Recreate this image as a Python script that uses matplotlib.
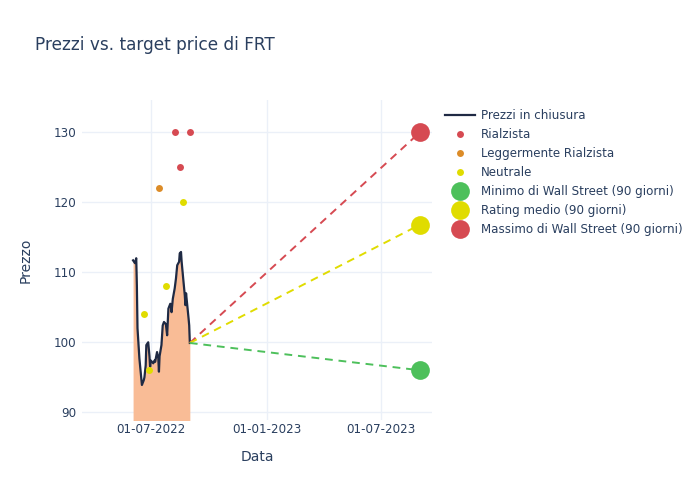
import matplotlib
matplotlib.use("Agg")
import matplotlib.pyplot as plt
import matplotlib.dates as mdates
import pandas as pd

# ---- data ----
price_dates = ["2022-06-03", "2022-06-06", "2022-06-08", "2022-06-09", "2022-06-10",
               "2022-06-13", "2022-06-15", "2022-06-17", "2022-06-20", "2022-06-21",
               "2022-06-23", "2022-06-24", "2022-06-27", "2022-06-29", "2022-06-30",
               "2022-07-01", "2022-07-05", "2022-07-07", "2022-07-08", "2022-07-11",
               "2022-07-13", "2022-07-14", "2022-07-15", "2022-07-18", "2022-07-20",
               "2022-07-22", "2022-07-25", "2022-07-27", "2022-07-29", "2022-08-01",
               "2022-08-02", "2022-08-03", "2022-08-05", "2022-08-08", "2022-08-10",
               "2022-08-12", "2022-08-15", "2022-08-16", "2022-08-18", "2022-08-19",
               "2022-08-22", "2022-08-24", "2022-08-25", "2022-08-26", "2022-08-29",
               "2022-08-30", "2022-08-31", "2022-09-01"]
price_values = [111.7, 111.3, 112.0, 108.1, 102.0,
                97.7, 95.8, 93.9, 94.6, 95.0,
                96.7, 99.6, 100.0, 98.0, 96.5,
                97.4, 97.0, 97.4, 97.2, 98.6,
                97.7, 95.8, 98.0, 99.6, 102.4,
                102.9, 102.6, 101.0, 104.8, 105.5,
                105.3, 104.3, 106.2, 107.7, 109.1,
                111.0, 111.5, 112.7, 112.9, 111.5,
                108.6, 106.7, 105.3, 107.0, 104.3,
                103.4, 102.4, 99.9]

bull_dates = ["2022-08-08", "2022-09-01", "2022-08-16"]
bull_values = [130, 130, 125]
mild_bull_dates = ["2022-07-14"]
mild_bull_values = [122]
neutral_dates = ["2022-06-21", "2022-06-29", "2022-07-25", "2022-08-21"]
neutral_values = [104, 96, 108, 120]

target_start = "2022-09-01"
target_end = "2023-09-01"
target_min = 96.0
target_mean = 116.8
target_max = 130.0

xlim = ["2022-03-14", "2023-09-20"]
ylim = [88.9, 134.6]
yticks = [90, 100, 110, 120, 130]
xticks = ["2022-07-01", "2023-01-01", "2023-07-01"]

# ---- style ----
TXT = "#2a3f5f"
GRID = "#ebf0f8"
RED = "#d64a52"
ORANGE = "#dc8c28"
YELLOW = "#e0dc00"
GREEN = "#4dc05b"
FILL = "#f9bc96"
LINE = "#1f2a44"

plt.rcParams['font.family'] = ['DejaVu Sans']

fig = plt.figure(figsize=(7, 5), dpi=100)
ax = fig.add_axes([82/700, 1-420/500, 350/700, 320/500])

pd_dates = pd.to_datetime(price_dates)
ax.fill_between(pd_dates, price_values, ylim[0] - 5, color=FILL, lw=0, zorder=2)
ax.plot(pd_dates, price_values, color=LINE, lw=1.6, zorder=3, label="Prezzi in chiusura")

ts = pd.to_datetime(target_start)
te = pd.to_datetime(target_end)
last = price_values[-1]
ax.plot([ts, te], [last, target_max], ls=(0, (4, 3)), color=RED, lw=1.4, zorder=3)
ax.plot([ts, te], [last, target_mean], ls=(0, (4, 3)), color=YELLOW, lw=1.4, zorder=3)
ax.plot([ts, te], [last, target_min], ls=(0, (4, 3)), color=GREEN, lw=1.4, zorder=3)

ax.plot(pd.to_datetime(bull_dates), bull_values, 'o', color=RED, ms=5, mew=0, zorder=4, label="Rialzista")
ax.plot(pd.to_datetime(mild_bull_dates), mild_bull_values, 'o', color=ORANGE, ms=5, mew=0, zorder=4, label="Leggermente Rialzista")
ax.plot(pd.to_datetime(neutral_dates), neutral_values, 'o', color=YELLOW, ms=5, mew=0, zorder=4, label="Neutrale")
ax.plot([te], [target_min], 'o', color=GREEN, ms=13.5, mew=0, zorder=5, label="Minimo di Wall Street (90 giorni)")
ax.plot([te], [target_mean], 'o', color=YELLOW, ms=13.5, mew=0, zorder=5, label="Rating medio (90 giorni)")
ax.plot([te], [target_max], 'o', color=RED, ms=13.5, mew=0, zorder=5, label="Massimo di Wall Street (90 giorni)")

ax.set_xlim(pd.to_datetime(xlim[0]), pd.to_datetime(xlim[1]))
ax.set_ylim(*ylim)
ax.set_yticks(yticks)
ax.set_xticks(pd.to_datetime(xticks))
ax.xaxis.set_major_formatter(mdates.DateFormatter("%d-%m-%Y"))
ax.grid(True, color=GRID, lw=1, zorder=0)
ax.set_axisbelow(True)
for s in ax.spines.values():
    s.set_visible(False)
ax.tick_params(axis='both', length=0, labelsize=8.6, labelcolor=TXT)
ax.tick_params(axis='x', pad=2)
ax.tick_params(axis='y', pad=4)

ax.set_xlabel("Data", fontsize=10, color=TXT, labelpad=10)
ax.set_ylabel("Prezzo", fontsize=10, color=TXT, labelpad=15)

fig.text(35/700, 1-45/500, "Prezzi vs. target price di FRT", fontsize=12.15, color=TXT,
         ha='left', va='center')

leg = fig.legend(loc='upper left', bbox_to_anchor=(445/700, 1-109/500), frameon=False,
                 fontsize=8.6, labelspacing=0.5, handlelength=2.5, handletextpad=0.5,
                 borderaxespad=0, borderpad=0)
for t in leg.get_texts():
    t.set_color(TXT)

fig.savefig("out.png", dpi=100, facecolor="white")
